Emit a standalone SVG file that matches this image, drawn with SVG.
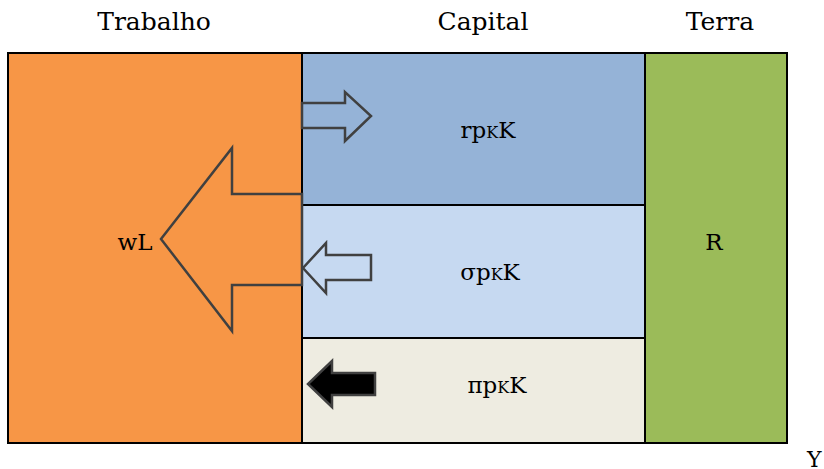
<svg xmlns="http://www.w3.org/2000/svg" width="824" height="469" viewBox="0 0 824 469">
  <style>
    .box { stroke: #000; stroke-width: 2; }
    .arrow { stroke: #404040; stroke-width: 2.5; stroke-linejoin: miter; }
    text { font-family: "DejaVu Serif", "Liberation Serif", serif; fill: #000; }
    .title { font-size: 25px; text-anchor: middle; }
    .lbl { font-size: 23px; text-anchor: middle; }
    .sub { font-size: 16px; }
  </style>
  <rect width="824" height="469" fill="#fff"/>

  <!-- headings -->
  <text class="title" x="154" y="30">Trabalho</text>
  <text class="title" x="483" y="30">Capital</text>
  <text class="title" x="720" y="30">Terra</text>

  <g id="trabalho">
    <rect class="box" x="8" y="53" width="294" height="390" fill="#F79646"/>
    <text class="lbl" x="135" y="250">wL</text>
  </g>
  <g id="capital-r">
    <rect class="box" x="302" y="53" width="343" height="152" fill="#95B3D7"/>
    <text class="lbl" x="488" y="138">rp<tspan class="sub">K</tspan>K</text>
  </g>
  <g id="capital-sigma">
    <rect class="box" x="302" y="205" width="343" height="133" fill="#C6D9F1"/>
    <text class="lbl" x="490" y="280">σp<tspan class="sub">K</tspan>K</text>
  </g>
  <g id="capital-pi">
    <rect class="box" x="302" y="338" width="343" height="105" fill="#EEECE1"/>
    <text class="lbl" x="497" y="393">πp<tspan class="sub">K</tspan>K</text>
  </g>
  <g id="terra">
    <rect class="box" x="645" y="53" width="142" height="390" fill="#9BBB59"/>
    <text class="lbl" x="714" y="250">R</text>
  </g>

  <text id="y-label" x="807" y="467" style="font-size:22px">Y</text>

  <g id="connectors">
    <!-- large transfer to labour -->
    <polygon class="arrow" fill="#F79646" points="302,194 232,194 232,148 161,239 232,331 232,285 302,285"/>
    <!-- r share -->
    <polygon class="arrow" fill="#95B3D7" points="302,103 345,103 345,92 371,116 345,141 345,128 302,128"/>
    <!-- sigma share -->
    <polygon class="arrow" fill="#C6D9F1" points="371,255 326,255 326,243 303,268 326,293 326,280 371,280"/>
    <!-- pi share -->
    <polygon class="arrow" fill="#000" points="375,373 332,373 332,361 308,384 332,407 332,395 375,395"/>
  </g>
</svg>
